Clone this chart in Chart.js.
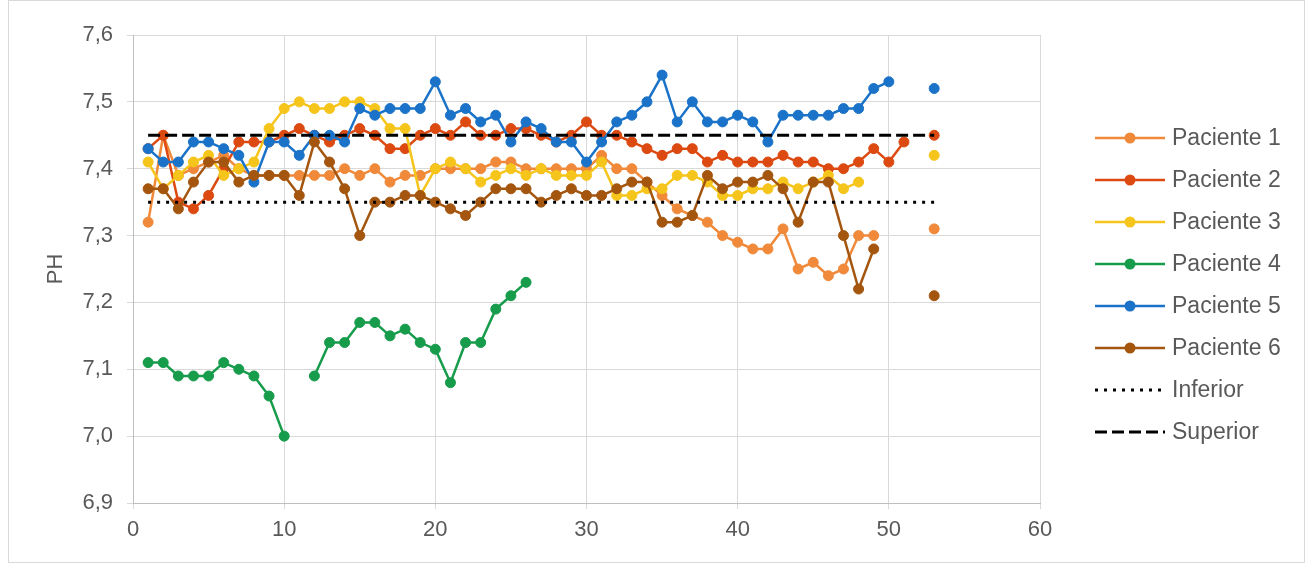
<!DOCTYPE html>
<html>
<head>
<meta charset="utf-8">
<script src="https://cdn.jsdelivr.net/npm/chart.js@4/dist/chart.umd.min.js"></script>
<style>
  html, body { margin: 0; padding: 0; background: #ffffff; }
  #wrap { position: relative; width: 1314px; height: 564px; }
</style>
</head>
<body>
<div id="wrap"><canvas id="c" width="1314" height="564"></canvas></div>
<script>
// Day of measurement (x axis)
const days = [1, 2, 3, 4, 5, 6, 7, 8, 9, 10, 11, 12, 13, 14, 15, 16, 17, 18, 19, 20,
  21, 22, 23, 24, 25, 26, 27, 28, 29, 30, 31, 32, 33, 34, 35, 36, 37, 38, 39, 40,
  41, 42, 43, 44, 45, 46, 47, 48, 49, 50, 51, 52, 53];

// pH readings per patient, one value per day (null = no measurement)
const paciente1 = [7.32, 7.45, 7.39, 7.40, 7.41, 7.42, 7.40, 7.39, 7.39, 7.39,
  7.39, 7.39, 7.39, 7.40, 7.39, 7.40, 7.38, 7.39, 7.39, 7.40,
  7.40, 7.40, 7.40, 7.41, 7.41, 7.40, 7.40, 7.40, 7.40, 7.40,
  7.42, 7.40, 7.40, 7.38, 7.36, 7.34, 7.33, 7.32, 7.30, 7.29,
  7.28, 7.28, 7.31, 7.25, 7.26, 7.24, 7.25, 7.30, 7.30, null,
  null, null, 7.31];
const paciente2 = [7.43, 7.45, 7.35, 7.34, 7.36, 7.40, 7.44, 7.44, 7.44, 7.45,
  7.46, 7.45, 7.44, 7.45, 7.46, 7.45, 7.43, 7.43, 7.45, 7.46,
  7.45, 7.47, 7.45, 7.45, 7.46, 7.46, 7.45, 7.44, 7.45, 7.47,
  7.45, 7.45, 7.44, 7.43, 7.42, 7.43, 7.43, 7.41, 7.42, 7.41,
  7.41, 7.41, 7.42, 7.41, 7.41, 7.40, 7.40, 7.41, 7.43, 7.41,
  7.44, null, 7.45];
const paciente3 = [7.41, 7.37, 7.39, 7.41, 7.42, 7.39, 7.40, 7.41, 7.46, 7.49,
  7.50, 7.49, 7.49, 7.50, 7.50, 7.49, 7.46, 7.46, 7.36, 7.40,
  7.41, 7.40, 7.38, 7.39, 7.40, 7.39, 7.40, 7.39, 7.39, 7.39,
  7.41, 7.36, 7.36, 7.37, 7.37, 7.39, 7.39, 7.38, 7.36, 7.36,
  7.37, 7.37, 7.38, 7.37, 7.38, 7.39, 7.37, 7.38, null, null,
  null, null, 7.42];
const paciente4 = [7.11, 7.11, 7.09, 7.09, 7.09, 7.11, 7.10, 7.09, 7.06, 7.00,
  null, 7.09, 7.14, 7.14, 7.17, 7.17, 7.15, 7.16, 7.14, 7.13,
  7.08, 7.14, 7.14, 7.19, 7.21, 7.23];
const paciente5 = [7.43, 7.41, 7.41, 7.44, 7.44, 7.43, 7.42, 7.38, 7.44, 7.44,
  7.42, 7.45, 7.45, 7.44, 7.49, 7.48, 7.49, 7.49, 7.49, 7.53,
  7.48, 7.49, 7.47, 7.48, 7.44, 7.47, 7.46, 7.44, 7.44, 7.41,
  7.44, 7.47, 7.48, 7.50, 7.54, 7.47, 7.50, 7.47, 7.47, 7.48,
  7.47, 7.44, 7.48, 7.48, 7.48, 7.48, 7.49, 7.49, 7.52, 7.53,
  null, null, 7.52];
const paciente6 = [7.37, 7.37, 7.34, 7.38, 7.41, 7.41, 7.38, 7.39, 7.39, 7.39,
  7.36, 7.44, 7.41, 7.37, 7.30, 7.35, 7.35, 7.36, 7.36, 7.35,
  7.34, 7.33, 7.35, 7.37, 7.37, 7.37, 7.35, 7.36, 7.37, 7.36,
  7.36, 7.37, 7.38, 7.38, 7.32, 7.32, 7.33, 7.39, 7.37, 7.38,
  7.38, 7.39, 7.37, 7.32, 7.38, 7.38, 7.30, 7.22, 7.28, null,
  null, null, 7.21];

// Reference limits of normal pH, drawn from the first to the last day
const limitDays = [1, 53];
const inferior = [7.35, 7.35];
const superior = [7.45, 7.45];

// Y axis ticks
const yTicks = [6.9, 7.0, 7.1, 7.2, 7.3, 7.4, 7.5, 7.6];

const FONT = '"Liberation Sans", Arial, sans-serif';
const TEXT = '#595959';
const GRID = '#D9D9D9';

function toPoints(xs, ys) {
  return ys.map((v, i) => ({ x: xs[i], y: v }));
}

function patient(label, values, color) {
  return {
    label,
    data: toPoints(days, values),
    borderColor: color,
    backgroundColor: color,
    pointBackgroundColor: color,
    pointBorderColor: color,
    borderWidth: 2.5,
    pointRadius: 5,
    pointBorderWidth: 1,
    spanGaps: false,
    tension: 0
  };
}

function limit(label, values, dash) {
  return {
    label,
    data: toPoints(limitDays, values),
    borderColor: '#000000',
    backgroundColor: '#000000',
    borderWidth: 3,
    borderDash: dash,
    pointRadius: 0,
    tension: 0
  };
}

const datasets = [
  patient('Paciente 1', paciente1, '#F08A3A'),
  patient('Paciente 2', paciente2, '#DC4A12'),
  patient('Paciente 3', paciente3, '#F6C51B'),
  patient('Paciente 4', paciente4, '#179C4C'),
  patient('Paciente 5', paciente5, '#1A73C8'),
  patient('Paciente 6', paciente6, '#A4560F'),
  limit('Inferior', inferior, [3, 6]),
  limit('Superior', superior, [12, 5])
];
// later series are painted over earlier ones
datasets.forEach((d, i) => { d.order = datasets.length - i; });

// Frame around the whole chart and a legend with line + marker samples
const decorations = {
  id: 'decorations',
  beforeDraw(chart) {
    const ctx = chart.ctx;
    ctx.save();
    ctx.fillStyle = '#ffffff';
    ctx.fillRect(0, 0, chart.width, chart.height);
    ctx.restore();
  },
  afterDraw(chart) {
    const ctx = chart.ctx;
    ctx.save();
    ctx.strokeStyle = '#D9D9D9';
    ctx.lineWidth = 1;
    ctx.strokeRect(8.5, 0.5, 1296, 562);

    const x0 = 1095, x1 = 1165, tx = 1172, y0 = 138, step = 42;
    chart.data.datasets.forEach((ds, i) => {
      const y = y0 + i * step;
      ctx.strokeStyle = ds.borderColor;
      ctx.lineWidth = ds.borderWidth;
      ctx.setLineDash(ds.borderDash || []);
      ctx.beginPath();
      ctx.moveTo(x0, y);
      ctx.lineTo(x1, y);
      ctx.stroke();
      ctx.setLineDash([]);
      if (ds.pointRadius > 0) {
        ctx.fillStyle = ds.pointBackgroundColor;
        ctx.beginPath();
        ctx.arc((x0 + x1) / 2, y, ds.pointRadius + 0.5, 0, Math.PI * 2);
        ctx.fill();
      }
      ctx.fillStyle = TEXT;
      ctx.font = '23px ' + FONT;
      ctx.textBaseline = 'middle';
      ctx.textAlign = 'left';
      ctx.fillText(ds.label, tx, y + 1);
    });
    ctx.restore();
  }
};

new Chart(document.getElementById('c'), {
  type: 'line',
  data: { datasets },
  plugins: [decorations],
  options: {
    responsive: false,
    devicePixelRatio: 1,
    animation: false,
    events: [],
    layout: { padding: { left: 0, right: 274, top: 35, bottom: 0 } },
    plugins: { legend: { display: false }, tooltip: { enabled: false } },
    scales: {
      x: {
        type: 'linear',
        min: 0,
        max: 60,
        afterFit(scale) { scale.height = 61; },
        ticks: { stepSize: 10, color: TEXT, font: { family: FONT, size: 22 }, padding: 8, maxRotation: 0 },
        grid: { color: GRID, tickColor: GRID, tickLength: 6, lineWidth: 1 },
        border: { color: '#BFBFBF', width: 1 }
      },
      y: {
        type: 'linear',
        min: yTicks[0],
        max: yTicks[yTicks.length - 1],
        afterFit(scale) { scale.width = 133; },
        afterBuildTicks(scale) { scale.ticks = yTicks.map(v => ({ value: v })); },
        ticks: {
          color: TEXT,
          font: { family: FONT, size: 22 },
          padding: 14,
          callback: v => Number(v).toFixed(1).replace('.', ',')
        },
        grid: { color: GRID, tickColor: GRID, tickLength: 6, lineWidth: 1 },
        border: { color: '#BFBFBF', width: 1 },
        title: {
          display: true,
          text: 'PH',
          color: TEXT,
          font: { family: FONT, size: 22 },
          padding: { top: 43, bottom: 0 }
        }
      }
    }
  }
});
</script>
</body>
</html>
